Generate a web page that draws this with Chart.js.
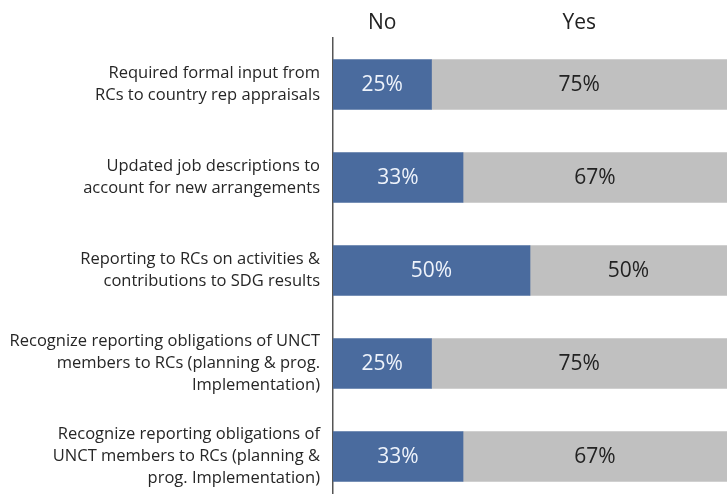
<!DOCTYPE html>
<html>
<head>
<meta charset="utf-8">
<script src="https://cdn.jsdelivr.net/npm/chart.js@4"></script>
<style>
html,body{margin:0;padding:0;background:#fff;overflow:hidden;width:727px;height:494px;}
#wrap{position:relative;width:727px;height:503px;}
</style>
</head>
<body>
<div id="wrap"><canvas id="c"></canvas></div>
<script>
const categories = [
  ["Required formal input from", "RCs to country rep appraisals"],
  ["Updated job descriptions to", "account for new arrangements"],
  ["Reporting to RCs on activities &", "contributions to SDG results"],
  ["Recognize reporting obligations of UNCT", "members to RCs (planning & prog.", "Implementation)"],
  ["Recognize reporting obligations of", "UNCT members to RCs (planning &", "prog. Implementation)"]
];
const seriesNames = ["No", "Yes"];
const noValues = [25, 33, 50, 25, 33];
const yesValues = [75, 67, 50, 75, 67];

const FONT = "'Open Sans', Lato, sans-serif";

const overlay = {
  id: 'overlay',
  afterDatasetsDraw(chart) {
    const ctx = chart.ctx;
    ctx.save();
    ctx.textAlign = 'center';
    ctx.textBaseline = 'middle';
    chart.data.datasets.forEach((ds, di) => {
      const meta = chart.getDatasetMeta(di);
      meta.data.forEach((bar, i) => {
        const left = Math.min(bar.x, bar.base), right = Math.max(bar.x, bar.base);
        ctx.font = '21px ' + FONT;
        ctx.fillStyle = di === 0 ? '#eef3fb' : '#222222';
        ctx.fillText(ds.data[i] + '%', (left + right) / 2, bar.y + 1);
      });
      const b0 = meta.data[0];
      const l0 = Math.min(b0.x, b0.base), r0 = Math.max(b0.x, b0.base);
      ctx.font = '21px ' + FONT;
      ctx.fillStyle = '#222222';
      ctx.fillText(ds.label, (l0 + r0) / 2, 23);
    });
    ctx.restore();
  }
};

new Chart(document.getElementById('c'), {
  type: 'bar',
  data: {
    labels: categories,
    datasets: [
      { label: seriesNames[0], data: noValues, backgroundColor: '#4a6b9e', barThickness: 50 },
      { label: seriesNames[1], data: yesValues, backgroundColor: '#c0c0c0', barThickness: 50 }
    ]
  },
  options: {
    indexAxis: 'y',
    responsive: true,
    maintainAspectRatio: false,
    animation: false,
    layout: { padding: { top: 38, right: 0, bottom: 0, left: 0 } },
    plugins: { legend: { display: false }, tooltip: { enabled: false } },
    scales: {
      x: { stacked: true, min: 0, max: 100, display: false },
      y: {
        stacked: true,
        grid: { display: false, drawTicks: false },
        border: { display: true, color: '#555555', width: 1.5 },
        ticks: {
          padding: 13,
          color: '#262626',
          font: { family: FONT, size: 16.5, lineHeight: 1.33 }
        },
        afterFit(scale) {
          scale.width = 333;
          scale.paddingTop = 0;
          scale.paddingBottom = 0;
        }
      }
    }
  },
  plugins: [overlay]
});
</script>
</body>
</html>
